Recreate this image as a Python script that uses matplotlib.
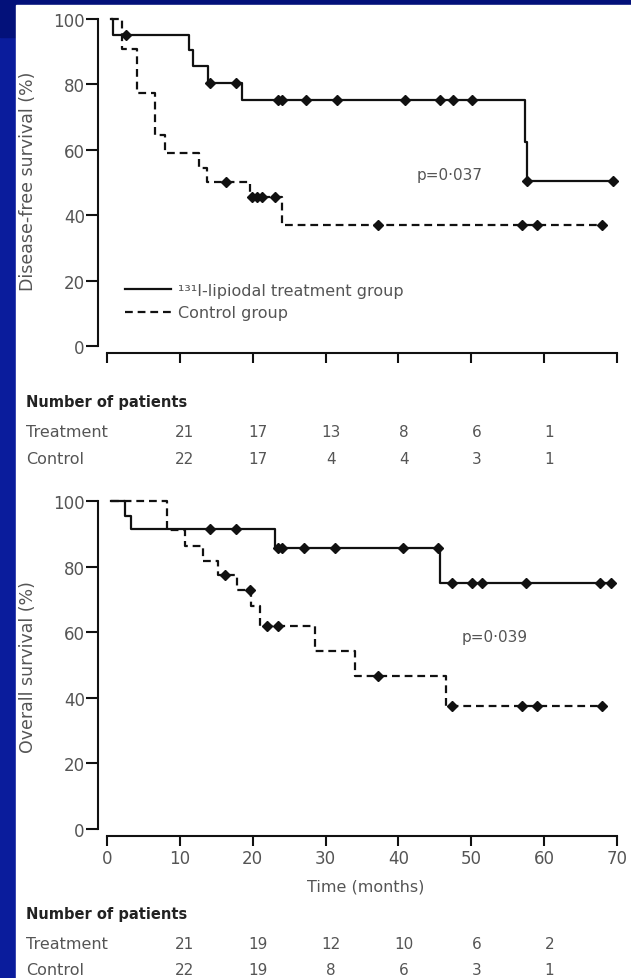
import numpy as np
import matplotlib
matplotlib.use('Agg')
import matplotlib.pyplot as plt
from matplotlib.patches import Rectangle
import matplotlib.transforms as mtransforms

plt.rcParams['font.family'] = ['DejaVu Sans']

# ---- disease-free survival (top panel) ----
dfs_trt_t = [0.5, 0.8, 11.3, 11.8, 13.9, 18.5, 57.3, 57.6]
dfs_trt_s = [100, 95.2, 90.5, 85.7, 80.4, 75.3, 62.5, 50.4]
dfs_trt_end = 69.4
dfs_trt_cens = [2.6, 14.2, 17.7, 23.5, 24.0, 27.3, 31.5, 40.9, 45.7, 47.5, 50.1, 57.7, 69.4]

dfs_ctl_t = [0.5, 2.1, 4.1, 6.6, 7.9, 12.6, 13.7, 19.6, 24.0]
dfs_ctl_s = [100, 90.9, 77.3, 64.5, 59.1, 54.5, 50.0, 45.5, 36.9]
dfs_ctl_end = 67.9
dfs_ctl_cens = [16.3, 19.9, 20.6, 21.3, 23.0, 37.2, 56.9, 59.0, 67.9]

# ---- overall survival (bottom panel) ----
os_trt_t = [0.5, 2.5, 3.3, 23.0, 45.7]
os_trt_s = [100, 95.5, 91.5, 85.7, 75.0]
os_trt_end = 69.1
os_trt_cens = [14.1, 17.7, 23.5, 24.0, 27.0, 31.3, 40.6, 45.4, 47.3, 50.1, 51.4, 57.5, 67.6, 69.1]

os_ctl_t = [0.5, 8.2, 10.7, 13.2, 15.3, 17.8, 19.8, 21.0, 28.5, 34.0, 46.5]
os_ctl_s = [100, 91.0, 86.4, 81.8, 77.3, 72.7, 68.0, 61.9, 54.3, 46.6, 37.5]
os_ctl_end = 67.9
os_ctl_cens = [16.2, 19.6, 21.9, 23.4, 37.2, 47.3, 56.9, 59.0, 67.9]

# numbers at risk
risk_months = [10, 20, 30, 40, 50, 60]
dfs_risk_trt = [21, 17, 13, 8, 6, 1]
dfs_risk_ctl = [22, 17, 4, 4, 3, 1]
os_risk_trt = [21, 19, 12, 10, 6, 2]
os_risk_ctl = [22, 19, 8, 6, 3, 1]

GREY = '#555555'
W, H = 631, 979


def surv_at(times, surv, t):
    i = np.searchsorted(times, t, side='right') - 1
    return surv[max(i, 0)]


def km(ax, times, surv, end, cens, ls, label):
    xs = list(times) + [end]
    ys = list(surv) + [surv[-1]]
    ax.step(xs, ys, where='post', color='#111111', lw=1.6, ls=ls, label=label)
    cy = [surv_at(times, surv, c) for c in cens]
    ax.plot(cens, cy, ls='none', marker='D', ms=4.8, color='#111111')


def style(ax, xlabels):
    for s in ['top', 'right']:
        ax.spines[s].set_visible(False)
    ax.spines['left'].set_bounds(0, 100)
    ax.spines['bottom'].set_bounds(0, 70)
    for s in ['left', 'bottom']:
        ax.spines[s].set_linewidth(1.5)
        ax.spines[s].set_color('#111111')
    ax.set_xlim(-1.235, 70.4)
    ax.set_ylim(-2.14, 101.2)
    ax.set_yticks([0, 20, 40, 60, 80, 100])
    ax.set_xticks(range(0, 71, 10))
    ax.tick_params(axis='y', direction='out', length=8.5, width=1.5, pad=1,
                   labelsize=12, labelcolor=GREY, color='#111111')
    ax.tick_params(axis='x', direction='out', length=7.5, width=1.5, pad=2,
                   labelsize=12, labelcolor=GREY, color='#111111',
                   labelbottom=xlabels)
    ax.patch.set_visible(False)


fig = plt.figure(figsize=(W / 100, H / 100), dpi=100)
fig.patch.set_facecolor('#0a1c9c')
fig.add_artist(Rectangle((0, 1 - 6 / H), 1, 6 / H, transform=fig.transFigure,
                         color='#03117a', zorder=-2))
fig.add_artist(Rectangle((0, 1 - 38 / H), 16 / W, 38 / H, transform=fig.transFigure,
                         color='#03117a', zorder=-2))
fig.add_artist(Rectangle((16 / W, 0), 1 - 16 / W, 1 - 6 / H, transform=fig.transFigure,
                         color='white', zorder=-1))

ax1 = fig.add_axes([98 / W, (H - 354) / H, 522 / W, 338 / H])
ax2 = fig.add_axes([98 / W, (H - 837) / H, 522 / W, 339 / H])

dash = (0, (3.5, 2.2))
km(ax1, dfs_trt_t, dfs_trt_s, dfs_trt_end, dfs_trt_cens, '-', '¹³¹I-lipiodal treatment group')
km(ax1, dfs_ctl_t, dfs_ctl_s, dfs_ctl_end, dfs_ctl_cens, dash, 'Control group')
km(ax2, os_trt_t, os_trt_s, os_trt_end, os_trt_cens, '-', None)
km(ax2, os_ctl_t, os_ctl_s, os_ctl_end, os_ctl_cens, dash, None)

style(ax1, False)
style(ax2, True)

ax1.legend(loc='upper left', bbox_to_anchor=(0.052, 0.207), frameon=False,
           fontsize=11.5, labelcolor=GREY, handlelength=2.9, handletextpad=0.4,
           labelspacing=0.45, borderpad=0, borderaxespad=0)

ax1.set_ylabel('Disease-free survival (%)', fontsize=12.5, color=GREY)
ax2.set_ylabel('Overall survival (%)', fontsize=12.5, color=GREY)
ax1.yaxis.set_label_coords(-61 / 522, 0.51)
ax2.yaxis.set_label_coords(-61 / 522, 0.5)
ax2.set_xlabel('Time (months)', fontsize=11.5, color=GREY)
ax2.xaxis.set_label_coords((366 - 98) / 522, -(880 - 837) / 339)

ax1.text(42.5, 52.5, 'p=0·037', fontsize=11, color=GREY, va='center')
ax2.text(48.7, 58.8, 'p=0·039', fontsize=11, color=GREY, va='center')

# numbers-at-risk tables
for ax, rt, rc, y0 in [(ax1, dfs_risk_trt, dfs_risk_ctl, 403),
                       (ax2, os_risk_trt, os_risk_ctl, 915)]:
    tr = mtransforms.blended_transform_factory(ax.transData, fig.transFigure)
    fig.text(26 / W, 1 - y0 / H, 'Number of patients', fontsize=10.5,
             fontweight='bold', color='#222222', va='center')
    fig.text(26 / W, 1 - (y0 + 30) / H, 'Treatment', fontsize=11.5, color=GREY, va='center')
    fig.text(26 / W, 1 - (y0 + 56) / H, 'Control', fontsize=11.5, color=GREY, va='center')
    for m, a, b in zip(risk_months, rt, rc):
        ax.text(m + 0.7, 1 - (y0 + 30) / H, str(a), transform=tr, fontsize=11,
                color=GREY, ha='center', va='center')
        ax.text(m + 0.7, 1 - (y0 + 56) / H, str(b), transform=tr, fontsize=11,
                color=GREY, ha='center', va='center')

fig.savefig('out.png', dpi=100, facecolor=fig.get_facecolor())
